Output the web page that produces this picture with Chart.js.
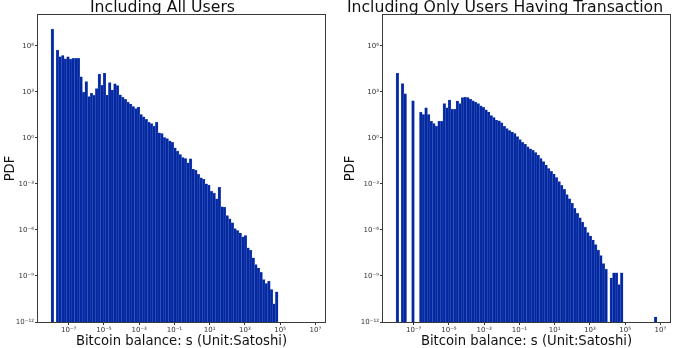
<!DOCTYPE html>
<html><head><meta charset="utf-8">
<script src="https://cdn.jsdelivr.net/npm/chart.js@4"></script>
<style>
html,body{margin:0;padding:0;background:#fff;overflow:hidden;width:685px;height:348px;position:relative}
canvas{position:absolute;top:0}
#c1{left:0}
#c2{left:340px}
</style></head><body>
<canvas id="c1" width="363" height="348"></canvas>
<canvas id="c2" width="373" height="348"></canvas>
<script>
// Histogram definition: 100 log10-bins from 10^-8 to 10^6.8
const binStart = -8, binWidth = 0.148, binCount = 100;

// PDF per bin (null = empty bin)
const allUsersPDF = [
  1.2e7, null, 5.2e5, 1.9e5, 2.3e5, 1.4e5, 1.9e5, 1.3e5, 1.5e5, 1.5e5,
  1.5e5, 9.5e3, 9.5e2, 4.6e3, 4.8e2, 7.8e2, 5.8e2, 1.6e3, 1.4e4, 2.6e3,
  1.6e4, 6.0e2, 3.9e3, 1.3e3, 3.3e3, 2.5e3, 6.3e2, 4.3e2, 3.2e2, 2.1e2,
  1.6e2, 1.1e2, 7.9e1, 1.0e2, 3.3e1, 2.3e1, 1.6e1, 1.05e1, 8.3, 5.8,
  1.05e1, 2.1, 1.9, 1.05, 8.9e-1, 6.3e-1, 5.0e-1, 2.2e-1, 1.35e-1, 8.1e-2,
  5.2e-2, 4.5e-2, 2.3e-2, 4.3e-2, 8.9e-3, 7.9e-3, 4.1e-3, 2.5e-3, 2.0e-3, 1.0e-3,
  8.3e-4, 3.2e-4, 2.5e-4, 1.05e-4, 6.0e-4, 3.2e-5, 3.0e-5, 8.5e-6, 5.2e-6, 2.9e-6,
  1.2e-6, 9.1e-7, 6.3e-7, 3.5e-7, 4.3e-7, 6.8e-8, 4.7e-8, 1.5e-8, 5.5e-9, 3.3e-9,
  1.7e-9, 5.8e-10, 3.2e-10, 4.5e-10, 1.3e-10, 1.5e-11, 9.1e-11, null, null, null,
  null, null, null, null, null, null, null, null, null, null
];
const activeUsersPDF = [
  1.6e4, null, 3.4e3, 7.4e2, null, null, 2.6e2, null, null, 4.7e1,
  3.3e1, 9.1e1, 3.3e1, 1.2e1, 8.5, 5.8, 1.2e1, 1.2e1, 1.7e2, 9.1e1,
  2.9e2, 7.4e1, 7.4e1, 2.5e2, 1.7e2, 4.1e2, 4.5e2, 4.2e2, 3.3e2, 2.6e2,
  2.1e2, 1.7e2, 1.2e2, 9.5e1, 6.6e1, 4.8e1, 2.8e1, 2.1e1, 1.4e1, 1.26e1,
  9.5, 5.6, 4.0, 3.0, 2.4, 1.9, 1.2, 7.6e-1, 5.0e-1, 3.8e-1,
  2.6e-1, 1.9e-1, 1.5e-1, 1.1e-1, 7.4e-2, 4.5e-2, 2.8e-2, 1.7e-2, 1.0e-2, 6.5e-3,
  4.4e-3, 2.6e-3, 1.4e-3, 7.9e-4, 4.4e-4, 2.0e-4, 1.07e-4, 5.5e-5, 2.5e-5, 1.2e-5,
  6.2e-6, 3.2e-6, 1.5e-6, 6.6e-7, 4.0e-7, 2.2e-7, 1.1e-7, 4.8e-8, 2.1e-8, 6.3e-9,
  2.8e-9, null, 7.4e-10, 1.6e-9, 1.6e-9, 2.7e-10, 1.6e-9, null, null, null,
  null, null, null, null, null, null, null, null, null, 2.1e-12
];

const xTickValues = [-7, -5, -3, -1, 1, 3, 5, 7];
const xTickLabels = ['10⁻⁷', '10⁻⁵', '10⁻³', '10⁻¹', '10¹', '10³', '10⁵', '10⁷'];
const yTickValues = [1e-12, 1e-9, 1e-6, 1e-3, 1, 1e3, 1e6];
const yTickLabels = ['10⁻¹²', '10⁻⁹', '10⁻⁶', '10⁻³', '10⁰', '10³', '10⁶'];
const chartTitles = ['Including All Users', 'Including Only Users Having Transaction'];
const xAxisTitle = 'Bitcoin balance: s (Unit:Satoshi)';
const yAxisTitle = 'PDF';

Chart.defaults.font.family = "'DejaVu Sans', sans-serif";

const framePlugin = {
  id: 'frame',
  afterDatasetsDraw(chart) {
    const {ctx, chartArea: a} = chart;
    ctx.save();
    ctx.strokeStyle = '#3a3a3a';
    ctx.lineWidth = 1;
    ctx.strokeRect(Math.round(a.left) - 0.5, Math.round(a.top) - 0.5,
                   Math.round(a.right - a.left) + 1, Math.round(a.bottom - a.top) + 1);
    ctx.restore();
  }
};

function makeChart(id, values, title, yWidth, rightPad) {
  const points = values.map((v, i) => ({x: binStart + binWidth * (i + 0.5), y: v}));
  return new Chart(document.getElementById(id), {
    type: 'bar',
    data: {datasets: [{
      data: points,
      backgroundColor: '#0328a0',
      borderColor: '#4f6cc8',
      borderWidth: 0.4,
      barPercentage: 1,
      categoryPercentage: 1
    }]},
    options: {
      responsive: false, animation: false, devicePixelRatio: 1,
      layout: {padding: {left: 0, right: rightPad, top: 0, bottom: 0}, autoPadding: false},
      plugins: {
        legend: {display: false}, tooltip: {enabled: false},
        title: {display: true, text: title, color: '#111',
                font: {size: 15.7, weight: 'normal', lineHeight: 15 / 15.7},
                padding: {top: 0, bottom: 0}}
      },
      scales: {
        x: {
          type: 'linear', min: -8.74, max: 7.54, offset: false,
          afterBuildTicks: s => { s.ticks = xTickValues.map(v => ({value: v})); },
          afterFit: s => { s.height = 26; },
          ticks: {autoSkip: false, maxRotation: 0, minRotation: 0, color: '#333',
                  font: {size: 7}, padding: 1, callback: (v, i) => xTickLabels[i]},
          grid: {display: true, offset: false, drawOnChartArea: false, drawTicks: true, tickLength: 3, color: '#333'},
          border: {display: false},
          title: {display: true, text: xAxisTitle, color: '#111', font: {size: 13.2, lineHeight: 1.0}, padding: 0}
        },
        y: {
          type: 'logarithmic', min: 1e-12, max: 1e8,
          afterBuildTicks: s => { s.ticks = yTickValues.map(v => ({value: v})); },
          afterFit: s => { s.width = yWidth; },
          ticks: {autoSkip: false, color: '#333', font: {size: 7}, padding: 1,
                  callback: (v, i) => yTickLabels[i]},
          grid: {display: true, drawOnChartArea: false, drawTicks: true, tickLength: 3, color: '#333'},
          border: {display: false},
          title: {display: true, text: yAxisTitle, color: '#111', font: {size: 13.2}, padding: {top: 3, bottom: 0}}
        }
      }
    },
    plugins: [framePlugin]
  });
}

makeChart('c1', allUsersPDF, chartTitles[0], 38, 38);
makeChart('c2', activeUsersPDF, chartTitles[1], 43, 43);
</script>
</body></html>
